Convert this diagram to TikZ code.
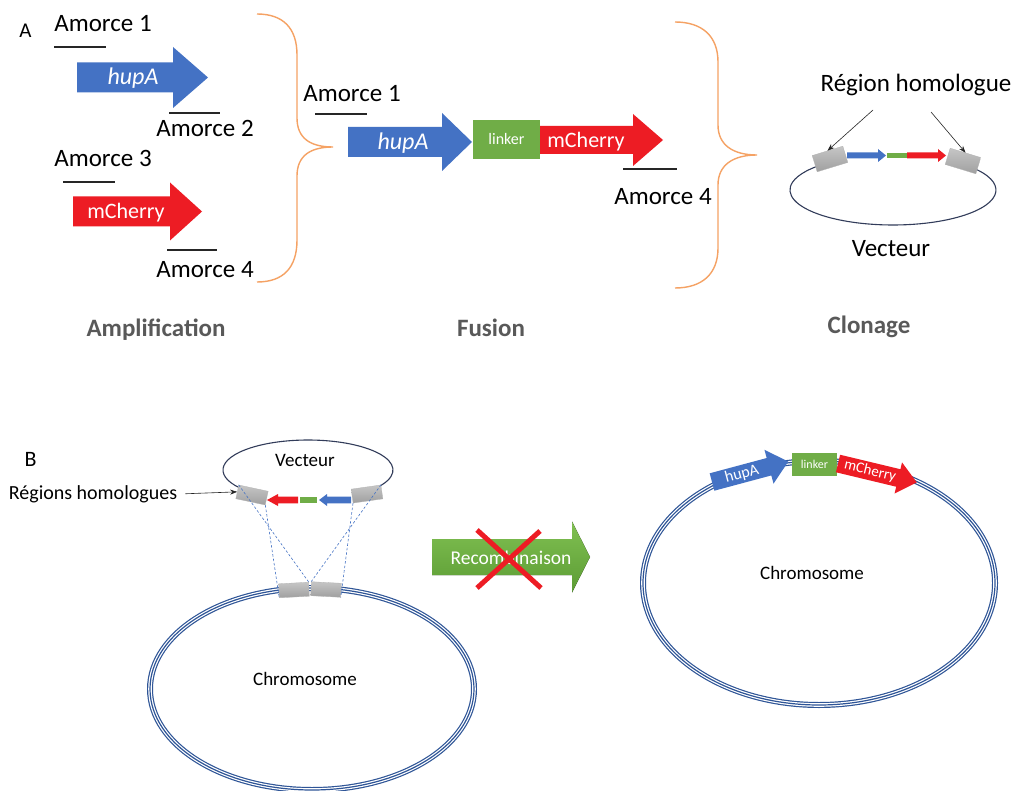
\documentclass[tikz,border=0pt]{standalone}
\usepackage{fontspec}
\setmainfont{Carlito}
\usetikzlibrary{arrows.meta}
\definecolor{hblue}{RGB}{68,114,196}
\definecolor{hred}{RGB}{237,28,36}
\definecolor{hgreen}{RGB}{112,173,71}
\definecolor{horange}{RGB}{245,162,100}
\definecolor{chromblue}{RGB}{47,85,151}
\definecolor{vecline}{RGB}{50,60,90}
\definecolor{labgray}{RGB}{89,89,89}
\definecolor{recgA}{RGB}{128,192,82}
\definecolor{recgB}{RGB}{92,156,52}
\newcommand{\myfs}[1]{\fontsize{#1}{#1}\selectfont}
% #1 style, #2 x start, #3 x head base, #4 x tip, #5 y centre, #6 body half, #7 head half
\newcommand{\garrow}[7]{\fill[#1] (#2,#5-#6) -- (#3,#5-#6) -- (#3,#5-#7) -- (#4,#5) -- (#3,#5+#7) -- (#3,#5+#6) -- (#2,#5+#6) -- cycle;}
\begin{document}
\begin{tikzpicture}[x=1pt,y=-1pt,
  txt/.style={inner sep=0pt, anchor=base},
  wtxt/.style={inner sep=0pt, anchor=base, text=white},
  primer/.style={line width=1.8pt, black!85},
  brace/.style={draw=horange, line width=1.4pt},
  gblock/.style={inner sep=0pt, top color=gray!45, bottom color=gray!75, draw=gray!60, line width=0.3pt},
  vec/.style={draw=vecline, line width=1.1pt},
  chrom/.style={draw=chromblue, line width=6pt, postaction={draw=white, line width=3.6pt}, postaction={draw=chromblue, line width=1.2pt}},
  lbox/.style={fill=hgreen, inner sep=0pt, text=white},
  thinarrow/.style={-{Stealth[length=7pt,width=5pt]}, line width=0.6pt, black!85},
  dashln/.style={draw=hblue, line width=0.6pt, dash pattern=on 2.5pt off 2pt}]
\useasboundingbox (0,0) rectangle (1019,791);
\fill[white] (0,0) rectangle (1019,791);

% ---------------- Part A ----------------
\node[txt, font=\myfs{21}] (labA) at (25.5,38) {A};

% Amplification
\node[txt, font=\myfs{25}] (am1) at (103,32) {Amorce 1};
\draw[primer] (54,47) -- (106,47);
\garrow{hblue}{77}{173}{208}{77.5}{15}{30.5}
\node[wtxt, font=\itshape\myfs{24}] (hupa1) at (133,85) {hupA};
\draw[primer] (169,113) -- (220,113);
\node[txt, font=\myfs{25}] (am2) at (205,137) {Amorce 2};
\node[txt, font=\myfs{25}] (am3) at (103,167) {Amorce 3};
\draw[primer] (63,182) -- (115,182);
\garrow{hred}{73}{170}{202}{211.5}{15}{29}
\node[wtxt, font=\myfs{22}] (mch1) at (126,219) {mCherry};
\draw[primer] (167,250) -- (217,250);
\node[txt, font=\myfs{25}] (am4) at (205,278) {Amorce 4};

\draw[brace] (257,14) .. controls (283,14) and (297,28) .. (297,55) -- (297,118)
  .. controls (297,138) and (310,147) .. (333,147)
  .. controls (310,147) and (297,156) .. (297,176) -- (297,240)
  .. controls (297,268) and (283,282) .. (257,282);

% Fusion
\node[txt, font=\myfs{25}] (fam1) at (352,102) {Amorce 1};
\draw[primer] (315,114) -- (367,114);
\garrow{hblue}{348}{442}{472}{142}{15}{29}
\node[wtxt, font=\itshape\myfs{24}] (hupa2) at (403,150) {hupA};
\node[lbox, minimum width=67pt, minimum height=39pt, font=\myfs{16}] (lk1) at (506.5,139.5) {linker};
\garrow{hred}{540}{633}{663}{140}{14}{26}
\node[wtxt, font=\myfs{22}] (mch2) at (586,148) {mCherry};
\draw[primer] (623,169) -- (677,169);
\node[txt, font=\myfs{25}] (fam4) at (663,205) {Amorce 4};

\draw[brace] (675,22) .. controls (702,22) and (718,36) .. (718,62) -- (718,125)
  .. controls (718,145) and (733,155) .. (757,155)
  .. controls (733,155) and (718,165) .. (718,185) -- (718,248)
  .. controls (718,274) and (702,288) .. (675,288);

% Clonage
\node[txt, font=\myfs{25}] (reg) at (916,92) {Région homologue};
\draw[vec] (963.2,164.4) arc[start angle=-47, end angle=232, x radius=103, y radius=35];
\node[gblock, minimum width=32pt, minimum height=17pt, rotate=17] (lb) at (830,159) {};
\node[gblock, minimum width=32pt, minimum height=17pt, rotate=-17] (rb) at (963,161) {};
\garrow{hblue}{847}{878}{886}{155.5}{3}{6.5}
\fill[hgreen] (887,153) rectangle (907,158.5);
\garrow{hred}{907}{938}{946}{155.5}{3}{6.5}
\coordinate (p1) at (873,110);
\coordinate (p2) at (931,112);
\draw[thinarrow] (p1) -- (lb.north);
\draw[thinarrow] (p2) -- (rb.north);
\node[txt, font=\myfs{25}] (vecA) at (891,257) {Vecteur};

% stage labels
\node[txt, font=\bfseries\myfs{25}, text=labgray] (st1) at (156,336) {Amplification};
\node[txt, font=\bfseries\myfs{25}, text=labgray] (st2) at (491,336) {Fusion};
\node[txt, font=\bfseries\myfs{25}, text=labgray] (st3) at (869,334) {Clonage};

% ---------------- Part B ----------------
\node[txt, font=\myfs{22}] (labB) at (30.5,466) {B};

% vector
\draw[vec] (251.1,492.3) arc[start angle=132, end angle=406, x radius=85, y radius=30];
\node[txt, font=\myfs{19}] (vecB) at (305,466) {Vecteur};
\node[gblock, minimum width=30pt, minimum height=14pt, rotate=-12] (vb1) at (252,495) {};
\node[gblock, minimum width=30pt, minimum height=14pt, rotate=8] (vb2) at (367,494) {};
\garrow{hred}{298}{278}{267}{500}{3.3}{6}
\fill[hgreen] (300,497) rectangle (317,503);
\garrow{hblue}{351}{327}{319}{500}{3.3}{6}
\node[txt, font=\myfs{20}] (reglab) at (93,499) {Régions homologues};
\draw[thinarrow] ([xshift=8pt]reglab.east) -- (vb1.west);

% chromosome left
\draw[chrom] (312,689) ellipse[x radius=162, y radius=101];
\node[gblock, minimum width=30pt, minimum height=14pt, rotate=3] (cb1) at (294,590) {};
\node[gblock, minimum width=30pt, minimum height=14pt, rotate=-3] (cb2) at (326,589.5) {};
\draw[dashln] (vb1.north west) -- (cb1.north east);
\draw[dashln] (vb1.south east) -- (cb1.south west);
\draw[dashln] (vb2.south west) -- (cb2.south east);
\draw[dashln] (vb2.north east) -- (cb2.north west);
\node[txt, font=\myfs{19}] (chrB1) at (305,685) {Chromosome};

% recombinaison
\garrow{top color=recgA, bottom color=recgB}{432}{572}{590}{557}{18}{35.5}
\node[wtxt, font=\myfs{19.5}] (recomb) at (511,564) {Recombinaison};
\draw[hred, line width=5pt] (477,530) -- (541,588);
\draw[hred, line width=5pt] (540,531) -- (477,588);

% chromosome right
\draw[chrom] (819,583) ellipse[x radius=176, y radius=122];
\begin{scope}[shift={(712,482)}, rotate=15]
  \garrow{hblue}{0}{59}{79}{0}{9}{17.5}
  \node[text=white, inner sep=0pt, font=\myfs{16}, rotate=15] (hupa3) at (31,0) {hupA};
\end{scope}
\node[lbox, minimum width=45pt, minimum height=23pt, font=\myfs{12}] (lk3) at (814.5,464.5) {linker};
\begin{scope}[shift={(838,463.5)}, rotate=-13.5]
  \garrow{hred}{0}{62}{81}{0}{9}{16}
  \node[text=white, inner sep=0pt, font=\myfs{15}, rotate=-13.5] (mch3) at (33,0) {mCherry};
\end{scope}
\node[txt, font=\myfs{19}] (chrB2) at (812,579) {Chromosome};
\end{tikzpicture}
\end{document}
